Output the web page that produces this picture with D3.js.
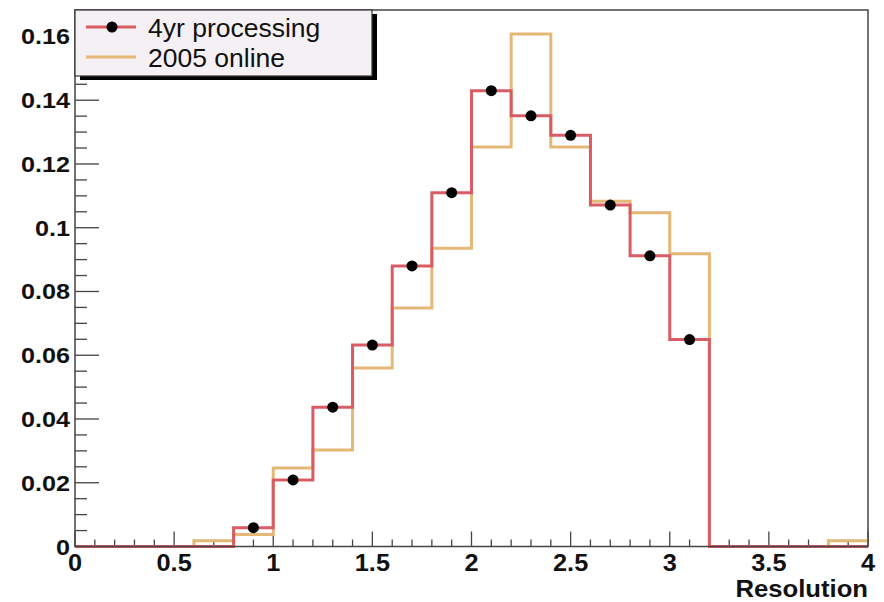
<!DOCTYPE html>
<html>
<head>
<meta charset="utf-8">
<script src="https://cdn.jsdelivr.net/npm/d3@7"></script>
<style>
  body { margin: 0; background: #fff; }
  text { font-family: "Liberation Sans", Arial, sans-serif; }
</style>
</head>
<body>
<div id="chart"></div>
<script>
//// data: 20 bins of width 0.2 from 0 to 4
var binLow = [0, 0.2, 0.4, 0.6, 0.8, 1.0, 1.2, 1.4, 1.6, 1.8, 2.0, 2.2, 2.4, 2.6, 2.8, 3.0, 3.2, 3.4, 3.6, 3.8];
var binWidth = 0.2;
var processing = [0, 0, 0, 0, 0.0059, 0.0209, 0.0437, 0.0632, 0.088, 0.111, 0.143, 0.1351, 0.129, 0.1071, 0.0912, 0.0649, 0, 0, 0, 0];
var online = [0, 0, 0, 0.0018, 0.0038, 0.0246, 0.0303, 0.056, 0.0748, 0.0936, 0.1253, 0.1608, 0.1253, 0.1083, 0.1047, 0.0918, 0, 0, 0, 0.0018];
var xTicks = [0, 0.5, 1, 1.5, 2, 2.5, 3, 3.5, 4];
var yTicks = [0, 0.02, 0.04, 0.06, 0.08, 0.1, 0.12, 0.14, 0.16];
var legendLabels = ["4yr processing", "2005 online"];

var redColor = "#d95c64", orangeColor = "#e4b877";

//// chart
var W = 884, H = 602;
var margin = {top: 10, right: 16, bottom: 56, left: 75};

var svg = d3.select("#chart").append("svg")
    .attr("width", W)
    .attr("height", H);

var xScale = d3.scaleLinear().domain([0, 4]).range([margin.left, W - margin.right]);
var yScale = d3.scaleLinear().domain([0, 0.1683]).range([H - margin.bottom + 0.5, margin.top]);

var x0 = xScale(0), x1 = xScale(4), y0 = yScale(0), yTop = margin.top;

// text stretched a little horizontally, like the original render
function label(x, y, txt, size, anchor, sx) {
    return svg.append("text")
        .attr("transform", "translate(" + x + "," + y + ") scale(" + sx + ",1)")
        .attr("text-anchor", anchor)
        .attr("font-size", size).attr("font-weight", "bold")
        .attr("fill", "#111")
        .text(txt);
}

//// minor / major ticks
var axisColor = "#444";
var g = svg.append("g");

d3.range(0, 4.0001, 0.1).forEach(function (v) {
    var major = Math.abs(v * 2 - Math.round(v * 2)) < 1e-6;
    g.append("line")
        .attr("x1", xScale(v)).attr("x2", xScale(v))
        .attr("y1", y0).attr("y2", y0 - (major ? 15 : 7))
        .attr("stroke", axisColor).attr("stroke-width", 1.3);
});
d3.range(0, 0.1651, 0.005).forEach(function (v) {
    var major = Math.abs(v * 50 - Math.round(v * 50)) < 1e-6;
    g.append("line")
        .attr("x1", x0).attr("x2", x0 + (major ? 24 : 12))
        .attr("y1", yScale(v)).attr("y2", yScale(v))
        .attr("stroke", axisColor).attr("stroke-width", 1.3);
});

//// tick labels
xTicks.forEach(function (d) {
    label(xScale(d), 571, d3.format("")(d), 23, "middle", 1.1);
});
yTicks.forEach(function (d) {
    label(x0 - 5, yScale(d) + 8, d === 0 ? "0" : String(+d.toFixed(2)), 22.5, "end", 1.12);
});
label(x1, 597, "Resolution", 24, "end", 1.07);

//// histograms as steps
function stepPoints(vals) {
    var pts = binLow.map((b, i) => [b, vals[i]]);
    pts.push([4, vals[vals.length - 1]]);
    return pts;
}
var line = d3.line()
    .x(d => xScale(d[0]))
    .y(d => yScale(d[1]))
    .curve(d3.curveStepAfter);

svg.append("path")
    .attr("d", line(stepPoints(online)))
    .attr("fill", "none").attr("stroke", orangeColor).attr("stroke-width", 3);

svg.append("path")
    .attr("d", line(stepPoints(processing)))
    .attr("fill", "none").attr("stroke", redColor).attr("stroke-width", 3);

//// points for processing
svg.selectAll(".dots")
    .data(binLow.map((b, i) => ({x: b + binWidth / 2, y: processing[i]})).filter(d => d.y > 0))
    .enter().append("circle")
    .attr("class", "dots")
    .attr("cx", d => xScale(d.x))
    .attr("cy", d => yScale(d.y))
    .attr("r", 5.5)
    .attr("fill", "#000");

//// frame
svg.append("rect")
    .attr("x", x0).attr("y", yTop)
    .attr("width", x1 - x0).attr("height", y0 - yTop)
    .attr("fill", "none").attr("stroke", axisColor).attr("stroke-width", 1.5);

//// legend
var lg = svg.append("g");
lg.append("rect").attr("x", 80).attr("y", 14).attr("width", 297).attr("height", 66).attr("fill", "#000");
lg.append("rect").attr("x", 75).attr("y", 10).attr("width", 297).attr("height", 66)
    .attr("fill", "#f5f0f4").attr("stroke", "#333").attr("stroke-width", 1.2);

var legendColors = [redColor, orangeColor];
legendLabels.forEach(function (lab, i) {
    var ly = 27 + i * 30;
    lg.append("line").attr("x1", 86).attr("x2", 136).attr("y1", ly).attr("y2", ly)
        .attr("stroke", legendColors[i]).attr("stroke-width", 3);
    if (i === 0) {
        lg.append("circle").attr("cx", 112).attr("cy", ly).attr("r", 5.5).attr("fill", "#000");
    }
    lg.append("text").attr("x", 148).attr("y", ly + 9.5)
        .attr("font-size", 26.5).attr("fill", "#111")
        .text(lab);
});
</script>
</body>
</html>
